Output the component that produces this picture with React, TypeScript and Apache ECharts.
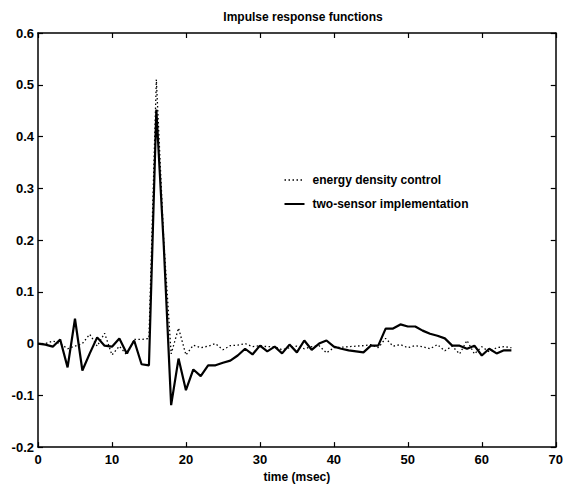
import React, { useEffect, useRef } from "react";
import * as echarts from "echarts";

const times = [
  0, 1, 2, 3, 4, 5, 6, 7, 8, 9, 10, 11, 12, 13, 14, 15, 16, 17, 18, 19, 20,
  21, 22, 23, 24, 25, 26, 27, 28, 29, 30, 31, 32, 33, 34, 35, 36, 37, 38, 39,
  40, 41, 42, 43, 44, 45, 46, 47, 48, 49, 50, 51, 52, 53, 54, 55, 56, 57, 58,
  59, 60, 61, 62, 63, 64,
];

const energyDensity = [
  0.0, 0.0, 0.005, 0.0, -0.01, -0.005, 0.0, 0.018, -0.005, 0.02, -0.022,
  -0.005, -0.022, 0.008, 0.008, 0.01, 0.51, 0.2, -0.02, 0.03, -0.022,
  -0.003, -0.008, -0.005, 0.0, -0.012, -0.004, -0.003, 0.0, -0.006, -0.004,
  -0.006, -0.006, -0.012, -0.008, -0.005, -0.01, -0.006, -0.004, -0.018,
  -0.008, -0.007, -0.006, -0.005, -0.004, -0.002, -0.008, 0.01, -0.005,
  -0.002, -0.008, -0.004, -0.006, -0.01, -0.002, -0.014, -0.005, -0.02,
  0.006, -0.02, -0.006, -0.016, -0.008, -0.006, -0.008,
];

const twoSensor = [
  0.0, -0.002, -0.006, 0.008, -0.046, 0.048, -0.052, -0.019, 0.012, -0.004,
  -0.006, 0.01, -0.019, 0.006, -0.04, -0.042, 0.452, 0.19, -0.119, -0.029,
  -0.09, -0.05, -0.063, -0.042, -0.042, -0.037, -0.033, -0.023, -0.01,
  -0.021, -0.004, -0.015, -0.006, -0.019, -0.002, -0.017, 0.006, -0.012, 0.0,
  0.006, -0.006, -0.01, -0.013, -0.015, -0.017, -0.004, -0.004, 0.029, 0.029,
  0.037, 0.033, 0.033, 0.025, 0.019, 0.015, 0.01, -0.004, -0.004, -0.01,
  -0.004, -0.023, -0.01, -0.019, -0.013, -0.013,
];

const seriesNames = ["energy density control", "two-sensor implementation"];
const titleText = "Impulse response functions";
const xAxisName = "time (msec)";

const FONT = "Liberation Sans, Arial, Helvetica, sans-serif";
const DOT_DASH = [1.5, 2.5];

export default function App() {
  const ref = useRef<HTMLDivElement>(null);
  useEffect(() => {
    if (!ref.current) return;
    const chart = echarts.init(ref.current, undefined, { renderer: "svg" });
    const axisLine = { show: true, onZero: false, lineStyle: { color: "#000", width: 1.5 } };
    const tick = { show: true, inside: true, length: 5, lineStyle: { color: "#000", width: 1.2 } };
    const label = {
      color: "#000",
      fontSize: 13,
      fontWeight: "bold" as const,
      fontFamily: FONT,
    };
    const legendText = { fill: "#000", fontSize: 12, fontWeight: "bold", fontFamily: FONT };
    chart.setOption({
      animation: false,
      backgroundColor: "#fff",
      title: {
        text: titleText,
        left: 298,
        top: 6,
        textAlign: "center",
        textStyle: { color: "#000", fontSize: 12, fontWeight: "bold", fontFamily: FONT },
      },
      graphic: [
        {
          type: "group",
          left: 282,
          top: 174,
          children: [
            {
              type: "line",
              shape: { x1: 0, y1: 7, x2: 20, y2: 7 },
              style: { stroke: "#000", lineWidth: 1.3, lineDash: DOT_DASH },
            },
            {
              type: "text",
              x: 28,
              y: 7,
              style: { ...legendText, text: seriesNames[0], verticalAlign: "middle" },
            },
            {
              type: "line",
              shape: { x1: 0, y1: 31, x2: 20, y2: 31 },
              style: { stroke: "#000", lineWidth: 2 },
            },
            {
              type: "text",
              x: 28,
              y: 31,
              style: { ...legendText, text: seriesNames[1], verticalAlign: "middle" },
            },
          ],
        },
      ],
      grid: { left: 38, right: 9, top: 33, bottom: 39, containLabel: false },
      xAxis: [
        {
          type: "value",
          min: 0,
          max: 70,
          interval: 10,
          axisLine,
          axisTick: tick,
          splitLine: { show: false },
          axisLabel: { ...label, margin: 6 },
          name: xAxisName,
          nameLocation: "middle",
          nameGap: 23,
          nameTextStyle: { ...label, fontSize: 12 },
        },
        {
          type: "value",
          position: "top",
          min: 0,
          max: 70,
          interval: 10,
          axisLine,
          axisTick: tick,
          splitLine: { show: false },
          axisLabel: { show: false },
        },
      ],
      yAxis: [
        {
          type: "value",
          min: -0.2,
          max: 0.6,
          interval: 0.1,
          axisLine,
          axisTick: tick,
          splitLine: { show: false },
          axisLabel: {
            ...label,
            margin: 4,
            formatter: (v: number) => String(Math.round(v * 10) / 10),
          },
        },
        {
          type: "value",
          position: "right",
          min: -0.2,
          max: 0.6,
          interval: 0.1,
          axisLine,
          axisTick: tick,
          splitLine: { show: false },
          axisLabel: { show: false },
        },
      ],
      series: [
        {
          name: seriesNames[0],
          type: "line",
          symbol: "none",
          data: times.map((t, i) => [t, energyDensity[i]]),
          lineStyle: { color: "#000", width: 1.3, type: DOT_DASH },
          itemStyle: { color: "#000" },
          z: 2,
        },
        {
          name: seriesNames[1],
          type: "line",
          symbol: "none",
          data: times.map((t, i) => [t, twoSensor[i]]),
          lineStyle: { color: "#000", width: 2.2 },
          itemStyle: { color: "#000" },
          z: 3,
        },
      ],
    });
    return () => chart.dispose();
  }, []);
  return (
    <div
      ref={ref}
      style={{ position: "fixed", left: 0, top: 0, width: 566, height: 488 }}
    />
  );
}
